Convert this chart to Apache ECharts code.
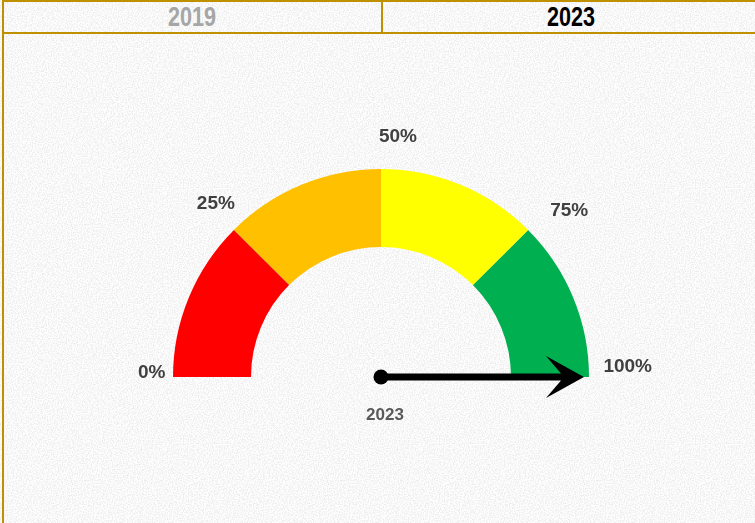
<!DOCTYPE html>
<html>
<head>
<meta charset="utf-8">
<script src="https://cdn.jsdelivr.net/npm/echarts@6/dist/echarts.min.js"></script>
<style>
    html, body {
        margin: 0;
        padding: 0;
        width: 755px;
        height: 523px;
        overflow: hidden;
        background-color: #fff;
        background-image: url("data:image/svg+xml;utf8,<svg xmlns='http://www.w3.org/2000/svg' width='256' height='256'><filter id='n'><feTurbulence type='fractalNoise' baseFrequency='0.8' numOctaves='2' seed='3' stitchTiles='stitch'/><feColorMatrix values='0 0 0 0 0.85  0 0 0 0 0.85  0 0 0 0 0.85  3.2 0 0 0 -1.2'/></filter><rect width='100%' height='100%' filter='url(%23n)'/></svg>");
        font-family: "Liberation Sans", Arial, sans-serif;
    }
    #frame {
        position: absolute;
        left: 2px;
        top: 0;
        width: 760px;
        height: 523px;
        border-left: 2px solid #BF9000;
    }
    #tabs {
        position: absolute;
        left: 2px;
        top: 0;
        width: 756px;
        height: 30px;
        border: 2px solid #BF9000;
        display: flex;
    }
    #tabs div {
        flex: 1;
        text-align: center;
        line-height: 30px;
        font-size: 27px;
        font-weight: bold;
    }
    #tabs div span {
        display: inline-block;
        transform: scaleX(0.8);
    }
    #tabs div + div {
        border-left: 2px solid #BF9000;
    }
    #chart {
        position: absolute;
        left: 0;
        top: 0;
        width: 755px;
        height: 523px;
    }
</style>
</head>
<body>
<div id="frame"></div>
<div id="tabs"></div>
<div id="chart"></div>
<script>
    // header tabs
    const years = ['2019', '2023'];
    const activeYear = '2023';

    // gauge bands (fraction of the scale where each colour stops)
    const bandEnds = [0.25, 0.5, 0.75, 1];
    const bandColors = ['#FF0000', '#FFC000', '#FFFF00', '#00B050'];

    // scale
    const scaleMin = 0;
    const scaleMax = 100;
    const tickValues = [0, 25, 50, 75, 100];

    // needle
    const needleName = '2023';
    const needleValue = 100;

    const FONT = '"Liberation Sans", Arial, sans-serif';

    let tabs = document.getElementById('tabs');
    years.forEach(y => {
        let cell = document.createElement('div');
        let txt = document.createElement('span');
        txt.textContent = y;
        cell.style.color = y === activeYear ? '#000' : '#A6A6A6';
        cell.appendChild(txt);
        tabs.appendChild(cell);
    });

    // nudges so each tick label sits where the original text boxes were
    const labelPad = {
        0: [0, 0, 8, 50],
        25: [68, 0, 0, 23],
        50: [43, 0, 0, 34],
        75: [82, 0, 0, 0],
        100: [0, 22, 20, 0]
    };

    let rich = {};
    tickValues.forEach(v => {
        rich['t' + v] = {
            fontFamily: FONT,
            fontSize: 19,
            fontWeight: 'bold',
            color: '#404040',
            padding: labelPad[v] || 0
        };
    });

    let chart = echarts.init(document.getElementById('chart'));

    chart.setOption({
        animation: false,
        series: [{
            type: 'gauge',
            center: [381, 377],
            radius: 208,
            startAngle: 180,
            endAngle: 0,
            min: scaleMin,
            max: scaleMax,
            splitNumber: tickValues.length - 1,
            axisLine: {
                lineStyle: {
                    width: 78,
                    color: bandEnds.map((e, i) => [e, bandColors[i]])
                }
            },
            axisTick: { show: false },
            splitLine: { show: false, length: 0, distance: 0 },
            axisLabel: {
                distance: -85,
                formatter: v => '{t' + v + '|' + v + '%}',
                rich: rich
            },
            pointer: {
                icon: 'path://M21 0 L42 38 L24.5 23 L24.5 203 L17.5 203 L17.5 23 L0 38 Z',
                length: 203,
                width: 42,
                itemStyle: { color: '#000' }
            },
            anchor: {
                show: true,
                showAbove: true,
                size: 15,
                itemStyle: { color: '#000' }
            },
            title: {
                offsetCenter: [4, 38],
                fontFamily: FONT,
                fontSize: 17,
                fontWeight: 'bold',
                color: '#595959'
            },
            detail: { show: false },
            data: [{ name: needleName, value: needleValue }]
        }]
    });
</script>
</body>
</html>
